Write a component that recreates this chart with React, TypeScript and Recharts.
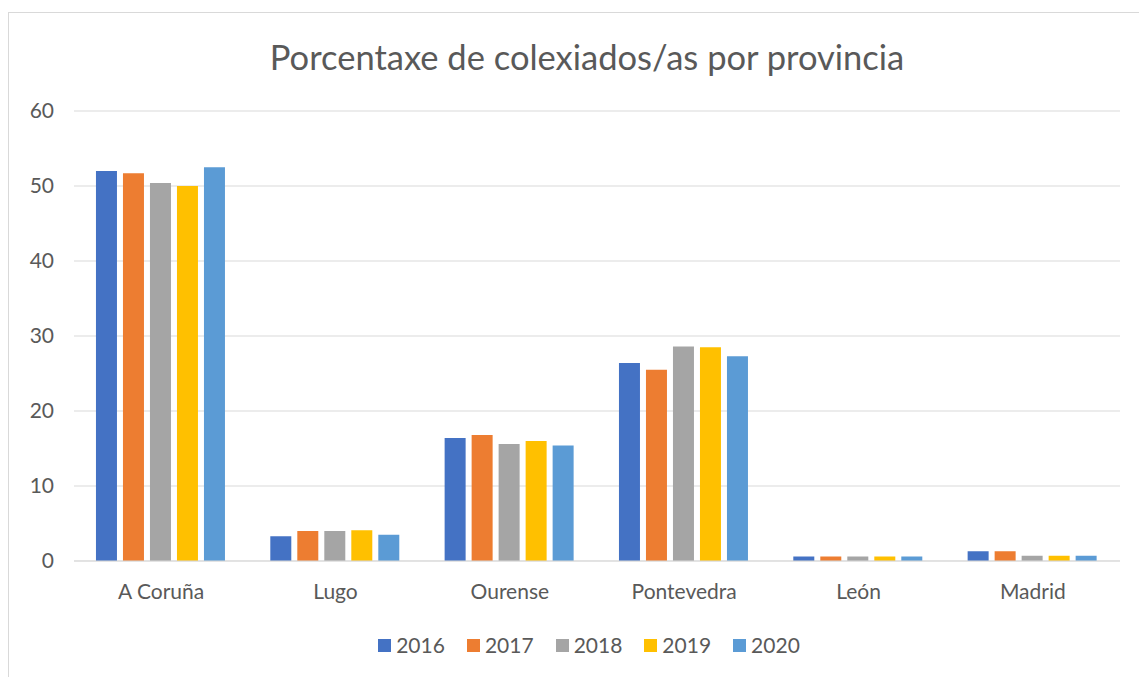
import React from "react";
import { BarChart, Bar, XAxis, YAxis, CartesianGrid, Legend } from "recharts";

const provinces = ["A Coruña", "Lugo", "Ourense", "Pontevedra", "León", "Madrid"];
const years = ["2016", "2017", "2018", "2019", "2020"];
const colors = ["#4472c4", "#ed7d31", "#a5a5a5", "#ffc000", "#5b9bd5"];

const v2016 = [52.0, 3.3, 16.4, 26.4, 0.6, 1.3];
const v2017 = [51.7, 4.0, 16.8, 25.5, 0.6, 1.3];
const v2018 = [50.4, 4.0, 15.6, 28.6, 0.6, 0.7];
const v2019 = [50.0, 4.1, 16.0, 28.5, 0.6, 0.7];
const v2020 = [52.5, 3.5, 15.4, 27.3, 0.6, 0.7];

const yTicks = [0, 10, 20, 30, 40, 50, 60];

const series = [v2016, v2017, v2018, v2019, v2020];
const data = provinces.map((p, i) => {
  const row: Record<string, string | number> = { name: p };
  years.forEach((y, j) => (row[y] = series[j][i]));
  return row;
});

const font = "Lato, 'Open Sans', sans-serif";
const textColor = "#595959";

function LegendBox() {
  return (
    <div
      style={{
        display: "flex",
        justifyContent: "center",
        gap: 22,
        paddingTop: 33,
        paddingLeft: 49,
        fontFamily: font,
        fontSize: 21,
        lineHeight: "22px",
        color: textColor,
      }}
    >
      {years.map((y, i) => (
        <div key={y} style={{ display: "flex", alignItems: "center" }}>
          <span style={{ width: 13, height: 13, background: colors[i], display: "inline-block", marginRight: 5 }} />
          {y}
        </div>
      ))}
    </div>
  );
}

export default function App() {
  return (
    <div
      style={{
        position: "relative",
        marginTop: 4,
        width: 1132,
        height: 668,
        border: "1px solid #d9d9d9",
        background: "#fff",
      }}
    >
      <div
        style={{
          position: "absolute",
          top: 23,
          left: 12,
          width: "100%",
          textAlign: "center",
          fontFamily: font,
          fontSize: 34.5,
          color: textColor,
        }}
      >
        Porcentaxe de colexiados/as por provincia
      </div>
      <BarChart
        width={1130}
        height={666}
        data={data}
        margin={{ top: 98, right: 19, left: 0, bottom: 8 }}
        barCategoryGap="12.6%"
        barGap={6}
      >
        <CartesianGrid vertical={false} stroke="#d9d9d9" />
        <XAxis
          dataKey="name"
          tickLine={false}
          axisLine={{ stroke: "#d9d9d9" }}
          tick={{ fill: textColor, fontSize: 21, fontFamily: font }}
          tickMargin={17}
          height={40}
        />
        <YAxis
          domain={[0, 60]}
          ticks={yTicks}
          axisLine={false}
          tickLine={false}
          width={65}
          tickMargin={14}
          tick={{ fill: textColor, fontSize: 21, fontFamily: font }}
        />
        <Legend verticalAlign="bottom" height={70} content={() => <LegendBox />} />
        {years.map((y, i) => (
          <Bar key={y} dataKey={y} fill={colors[i]} isAnimationActive={false} />
        ))}
      </BarChart>
    </div>
  );
}
